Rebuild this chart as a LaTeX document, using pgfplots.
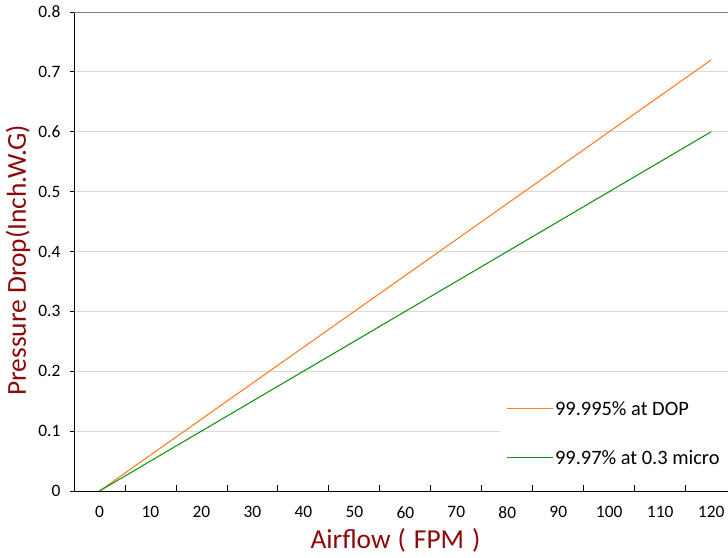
\documentclass[border=0pt]{standalone}
\usepackage{pgfplots}
\pgfplotsset{compat=1.18}
\usepackage{fontspec}
\setmainfont{Carlito}
\definecolor{lineorange}{RGB}{255,127,39}
\definecolor{linegreen}{RGB}{20,150,20}
\definecolor{labelred}{RGB}{140,10,10}
\definecolor{gridgray}{RGB}{217,217,217}

\begin{document}
\begin{tikzpicture}
\begin{axis}[
    at={(74bp,67bp)}, anchor=south west,
    scale only axis,
    width=654bp, height=479bp,
    xmin=-5, xmax=123.3,
    ymin=0, ymax=0.8,
    axis lines*=left,
    axis line style={black, line width=0.9bp},
    xtick={0,10,...,120},
    x tick style={draw=none},
    extra x ticks={5,15,...,115},
    extra x tick labels={},
    extra x tick style={tick align=inside, major tick length=6bp, x tick style={draw=black, line width=0.8bp}},
    ytick={0,0.1,...,0.8},
    yticklabel style={/pgf/number format/fixed, /pgf/number format/precision=1},
    tick align=outside,
    major tick length=4bp,
    y tick style={black, line width=0.8bp},
    ymajorgrids=true,
    grid style={gridgray, line width=0.9bp},
    /pgf/number format/assume math mode=true,
    tick label style={font=\fontsize{17.5}{20}\selectfont, black},
    xticklabel style={yshift=-8bp},
    yticklabel style={xshift=-6bp},
    xlabel={Airflow\hspace{7bp}(\hspace{8bp}FPM\hspace{8bp})},
    ylabel={Pressure Drop(Inch.W.G)},
    label style={font=\fontsize{27.5}{30}\selectfont, text=labelred},
    xlabel style={at={(axis description cs:0.4916,-0.104)}, anchor=center},
    ylabel style={at={(axis description cs:-0.0856,0.482)}, anchor=center, rotate=0},
    legend style={at={(axis description cs:0.651,0.208)}, anchor=north west,
        draw=white, fill=white, font=\fontsize{20.5}{22}\selectfont,
        inner xsep=6bp, inner ysep=8bp, row sep=29bp,
        nodes={inner sep=2bp}},
    legend cell align=left,
    legend image code/.code={\draw[#1] plot coordinates {(0bp,0.5bp) (46bp,0.5bp)};},
    clip=false,
]
\addplot[color=lineorange, line width=1.1bp] coordinates {
  (0,0) (10,0.06) (20,0.12) (30,0.18) (40,0.24) (50,0.30) (60,0.36)
  (70,0.42) (80,0.48) (90,0.54) (100,0.60) (110,0.66) (120,0.72)};
\addlegendentry{99.995\% at DOP}
\addplot[color=linegreen, line width=1.1bp] coordinates {
  (0,0) (10,0.05) (20,0.10) (30,0.15) (40,0.20) (50,0.25) (60,0.30)
  (70,0.35) (80,0.40) (90,0.45) (100,0.50) (110,0.55) (120,0.60)};
\addlegendentry{99.97\% at 0.3 micro}
\draw[gray, line width=0.9bp] (rel axis cs:0,1) -- (rel axis cs:1,1);
\end{axis}
\pgfresetboundingbox
\path[use as bounding box] (0,0) rectangle (728bp,558bp);
\end{tikzpicture}
\end{document}
